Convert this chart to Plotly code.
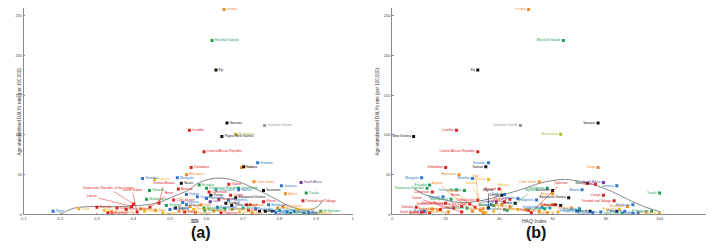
import plotly.graph_objects as go

# ---------------- data ----------------
countries = [
    "Kiribati", "Marshall Islands", "Fiji", "Vanuatu", "Solomon Islands", "Lesotho",
    "Papua New Guinea", "Micronesia", "Central African Republic", "Eswatini", "Zimbabwe",
    "Tonga", "Samoa", "Botswana", "Namibia", "Guyana", "Mongolia", "Nauru", "South Africa",
    "Jamaica", "Tuvalu", "Trinidad and Tobago", "Belize", "Suriname", "Cabo Verde",
    "Guatemala", "Gabon", "Congo", "Equatorial Guinea", "Bolivia", "Timor-Leste", "Djibouti",
    "Ghana", "Honduras", "Nicaragua", "Paraguay", "El Salvador", "Brazil", "Peru", "Ecuador",
    "Dominican Republic", "Venezuela", "Cameroon", "Kenya", "Uganda", "Tanzania", "Zambia",
    "Malawi", "Mozambique", "Rwanda", "Burundi", "Sudan", "Madagascar", "Niger", "Chad",
    "Somalia", "Mali", "Burkina Faso", "Guinea", "Sierra Leone", "Liberia", "South Sudan",
    "Eritrea", "Ethiopia", "Afghanistan", "Democratic Republic of the Congo", "Benin", "Togo",
    "Guinea-Bissau", "Gambia", "Senegal", "Mauritania", "Côte d'Ivoire", "Nigeria", "Angola",
    "Comoros", "Yemen", "Nepal", "Bangladesh", "Pakistan", "India", "Myanmar", "Cambodia",
    "Laos", "Bhutan", "Kyrgyzstan", "Tajikistan", "Uzbekistan", "Philippines", "Indonesia",
    "Vietnam", "Morocco", "Egypt", "Iraq", "Syria", "Sri Lanka", "Thailand", "Malaysia",
    "Mexico", "Colombia", "Panama", "Costa Rica", "Uruguay", "Argentina", "Chile", "Cuba",
    "Maldives",
]
sdi = [
    0.648, 0.615, 0.626, 0.656, 0.759, 0.553, 0.642, 0.680, 0.593, 0.740, 0.558,
    0.696, 0.702, 0.545, 0.425, 0.458, 0.520, 0.531, 0.859,
    0.805, 0.873, 0.864, 0.816, 0.756, 0.730,
    0.688, 0.661, 0.666, 0.680, 0.688, 0.669, 0.720,
    0.756, 0.770, 0.810, 0.780, 0.913, 0.867, 0.761, 0.580,
    0.600, 0.626, 0.607, 0.612, 0.575, 0.634, 0.653,
    0.545, 0.593, 0.444, 0.523, 0.545, 0.436, 0.180, 0.250,
    0.300, 0.320, 0.340, 0.355, 0.380, 0.395, 0.410,
    0.420, 0.430, 0.330, 0.400, 0.445, 0.460,
    0.470, 0.480, 0.490, 0.500, 0.510, 0.515, 0.525,
    0.535, 0.540, 0.555, 0.565, 0.570, 0.585, 0.595, 0.600,
    0.610, 0.620, 0.630, 0.640, 0.650, 0.660, 0.670,
    0.690, 0.700, 0.710, 0.715, 0.725, 0.735, 0.745, 0.790,
    0.795, 0.800, 0.820, 0.830, 0.840, 0.850, 0.880, 0.890,
    0.900,
]
haq = [
    51, 64, 32, 77, 48, 24, 8, 63, 32, 36, 20,
    77, 35, 25, 30, 36, 11, 73, 79,
    84, 100, 83, 60, 60, 55,
    58, 76, 79, 66, 71, 63, 60,
    42, 90, 88, 69, 97, 90, 84, 14,
    13, 24, 15, 41, 19, 44, 46,
    37, 28, 27, 40, 42, 22, 12, 15,
    9, 17, 21, 23, 18, 26, 11,
    34, 38, 14, 29, 31, 33,
    20, 35, 38, 42, 32, 36, 30,
    39, 26, 44, 47, 34, 41, 43, 47,
    39, 55, 56, 52, 57, 54, 50,
    62, 59, 61, 51, 58, 70, 74, 75,
    67, 70, 78, 86, 87, 85, 92, 95,
    100,
]
daly_rate = [
    258, 219, 182, 115, 112, 106, 98, 101, 79, 65, 59,
    59, 60, 50, 45, 44, 46, 39, 40,
    36, 27, 17, 26, 30, 41,
    33, 38, 24, 21, 31, 11, 12,
    16, 12, 10, 4, 4, 1, 4, 37,
    33, 31, 28, 24, 22, 19, 14,
    12, 8, 30, 32, 25, 19, 4, 7,
    9, 5, 3, 8, 6, 10, 3,
    7, 4, 2, 13, 9, 5,
    14, 2, 11, 6, 18, 8, 4,
    15, 3, 10, 6, 2, 12, 5, 20,
    16, 4, 9, 2, 7, 18, 6,
    3, 8, 12, 5, 2, 7, 4, 2,
    8, 5, 3, 1, 4, 6, 2, 3,
    1,
]
group = [
    "orange", "green", "black", "black", "grey", "red",
    "black", "olive", "red", "blue", "red",
    "orange", "black", "orange", "blue", "yellow", "blue", "black", "purple",
    "blue", "green", "red", "orange", "black", "orange",
    "green", "red", "red", "black", "blue", "black", "orange",
    "red", "blue", "orange", "blue", "green", "blue", "black", "green",
    "green", "teal", "red", "black", "blue", "red", "black",
    "blue", "green", "green", "red", "blue", "green", "blue", "yellow",
    "red", "yellow", "orange", "red", "red", "red", "red",
    "orange", "yellow", "red", "red", "red", "orange",
    "red", "yellow", "green", "blue", "red", "black", "orange",
    "blue", "red", "orange", "yellow", "orange", "orange", "green", "blue",
    "purple", "orange", "blue", "red", "green", "blue", "orange",
    "yellow", "teal", "red", "red", "orange", "blue", "black", "blue",
    "orange", "teal", "blue", "green", "blue", "yellow", "blue", "grey",
    "yellow",
]

# fitted trend lines
sdi_fit_x = [0.2, 0.235, 0.3, 0.355, 0.41, 0.463, 0.517, 0.553, 0.572, 0.615, 0.653,
             0.688, 0.734, 0.778, 0.824, 0.859, 0.883, 0.905, 0.916]
sdi_fit_y = [0, 7.5, 10, 9.5, 11, 14, 24, 31, 38, 45, 45, 41, 32, 22, 11, 6, 5.5, 10, 16]
haq_fit_x = [8, 12, 18.5, 25, 31, 37, 43, 49, 55, 59, 63.5, 69.5, 75.7, 82, 88, 94, 100.4]
haq_fit_y = [33, 25, 19, 15, 16, 20, 26, 32, 39, 42, 44, 42, 37, 29, 19, 10, 3]

sdi_ticks = [0.1, 0.2, 0.3, 0.4, 0.5, 0.6, 0.7, 0.8, 0.9, 1]
sdi_tick_labels = ["0.1", "0.2", "0.3", "0.4", "0.5", "0.6", "0.7", "0.8", "0.9", "1"]
haq_ticks = [0, 20, 40, 60, 80, 100, 120]
rate_ticks = [0, 50, 100, 150, 200, 250]

# labels drawn with leader lines instead of next to the marker
leader_left = ["Democratic Republic of the Congo", "Liberia", "South Sudan", "Guinea-Bissau", "Benin"]
leader_right = ["Pakistan", "Gambia", "Yemen", "Angola", "Togo", "Ethiopia", "Myanmar",
                "Tajikistan", "Nigeria", "Benin"]

# ---------------- styling ----------------
palette = {
    "orange": "#f08a24", "green": "#1e9e55", "black": "#111111", "grey": "#9a9a9a",
    "red": "#e0201e", "olive": "#b5b52a", "blue": "#2f74c8", "yellow": "#f2b620",
    "purple": "#6a3aa0", "teal": "#18a3a8",
}
colors = [palette[g] for g in group]
FONT = "Liberation Sans, Arial, sans-serif"

fig = go.Figure()


def labels_for(skip):
    return ["" if c in skip else c for c in countries]


fig.add_trace(go.Scatter(
    x=sdi_fit_x, y=sdi_fit_y, mode="lines", line=dict(color="#7a7a7a", width=0.9, shape="spline"),
    xaxis="x", yaxis="y", hoverinfo="skip", showlegend=False))
fig.add_trace(go.Scatter(
    x=sdi, y=daly_rate, mode="markers+text", text=labels_for(leader_left),
    textposition="middle right", textfont=dict(size=3.3, color=colors, family=FONT),
    marker=dict(symbol="square", size=3, color=colors, line=dict(width=0)),
    xaxis="x", yaxis="y", showlegend=False))

fig.add_trace(go.Scatter(
    x=haq_fit_x, y=haq_fit_y, mode="lines", line=dict(color="#7a7a7a", width=0.9, shape="spline"),
    xaxis="x2", yaxis="y2", hoverinfo="skip", showlegend=False))
fig.add_trace(go.Scatter(
    x=haq, y=daly_rate, mode="markers+text", text=labels_for(leader_right),
    textposition="middle left", textfont=dict(size=3.3, color=colors, family=FONT),
    marker=dict(symbol="square", size=3, color=colors, line=dict(width=0)),
    xaxis="x2", yaxis="y2", showlegend=False))

W, H = 714, 248
axis_common = dict(showline=True, linecolor="#8a8a8a", linewidth=1, ticks="inside", ticklen=1.5,
                   tickcolor="#8a8a8a", showgrid=False, zeroline=False,
                   tickfont=dict(size=4, color="#444", family=FONT))
ydom = [40 / H, 1]
fig.update_layout(
    width=W, height=H, margin=dict(l=0, r=0, t=0, b=0),
    paper_bgcolor="white", plot_bgcolor="white",
    xaxis=dict(domain=[13 / W, 345 / W], range=[0.1, 1], tickvals=sdi_ticks,
               ticktext=sdi_tick_labels, anchor="y", **axis_common),
    yaxis=dict(domain=ydom, range=[0, 260], tickvals=rate_ticks, anchor="x", **axis_common),
    xaxis2=dict(domain=[385 / W, 709 / W], range=[0, 120], tickvals=haq_ticks, anchor="y2",
                **axis_common),
    yaxis2=dict(domain=ydom, range=[0, 260], tickvals=rate_ticks, anchor="x2", **axis_common),
)

ann = []
idx = {c: i for i, c in enumerate(countries)}
left_off = [(-25, -16), (-40, -10), (-5, -22), (5, -20), (20, -14)]
for (c, (ax, ay)) in zip(leader_left, left_off):
    i = idx[c]
    ann.append(dict(x=sdi[i], y=daly_rate[i], xref="x", yref="y", text=c, showarrow=True,
                    arrowhead=0, arrowwidth=0.5, arrowcolor=colors[i], ax=ax, ay=ay,
                    font=dict(size=3.3, color=colors[i], family=FONT)))
right_off = [(-30, -22), (-15, -30), (-45, -14), (-35, -28), (-5, -34), (10, -26), (25, -20),
             (30, -30), (0, -18), (-20, -12)]
for (c, (ax, ay)) in zip(leader_right, right_off):
    i = idx[c]
    ann.append(dict(x=haq[i], y=daly_rate[i], xref="x2", yref="y2", text=c, showarrow=True,
                    arrowhead=0, arrowwidth=0.5, arrowcolor=colors[i], ax=ax, ay=ay,
                    font=dict(size=3.3, color=colors[i], family=FONT)))

ann += [
    dict(x=180 / W, y=1 - 220 / H, xref="paper", yref="paper", text="<b>SDI</b>", showarrow=False,
         font=dict(size=4.5, color="#333", family=FONT)),
    dict(x=543 / W, y=1 - 220 / H, xref="paper", yref="paper", text="HAQ Index", showarrow=False,
         font=dict(size=5, color="#333", family=FONT)),
    dict(x=4 / W, y=1 - 104 / H, xref="paper", yref="paper", textangle=-90, showarrow=False,
         text="Age-standardised DALYs rate (per 100,000)", font=dict(size=4.5, color="#333", family=FONT)),
    dict(x=370 / W, y=1 - 104 / H, xref="paper", yref="paper", textangle=-90, showarrow=False,
         text="Age-standardised DALYs rate (per 100,000)", font=dict(size=4.5, color="#333", family=FONT)),
    dict(x=180 / W, y=1 - 237 / H, xref="paper", yref="paper", text="<b>(a)</b>", showarrow=False,
         font=dict(size=16, color="#111", family=FONT)),
    dict(x=542 / W, y=1 - 237 / H, xref="paper", yref="paper", text="<b>(b)</b>", showarrow=False,
         font=dict(size=16, color="#111", family=FONT)),
]
fig.update_layout(annotations=ann)

fig.write_html("out.html")
